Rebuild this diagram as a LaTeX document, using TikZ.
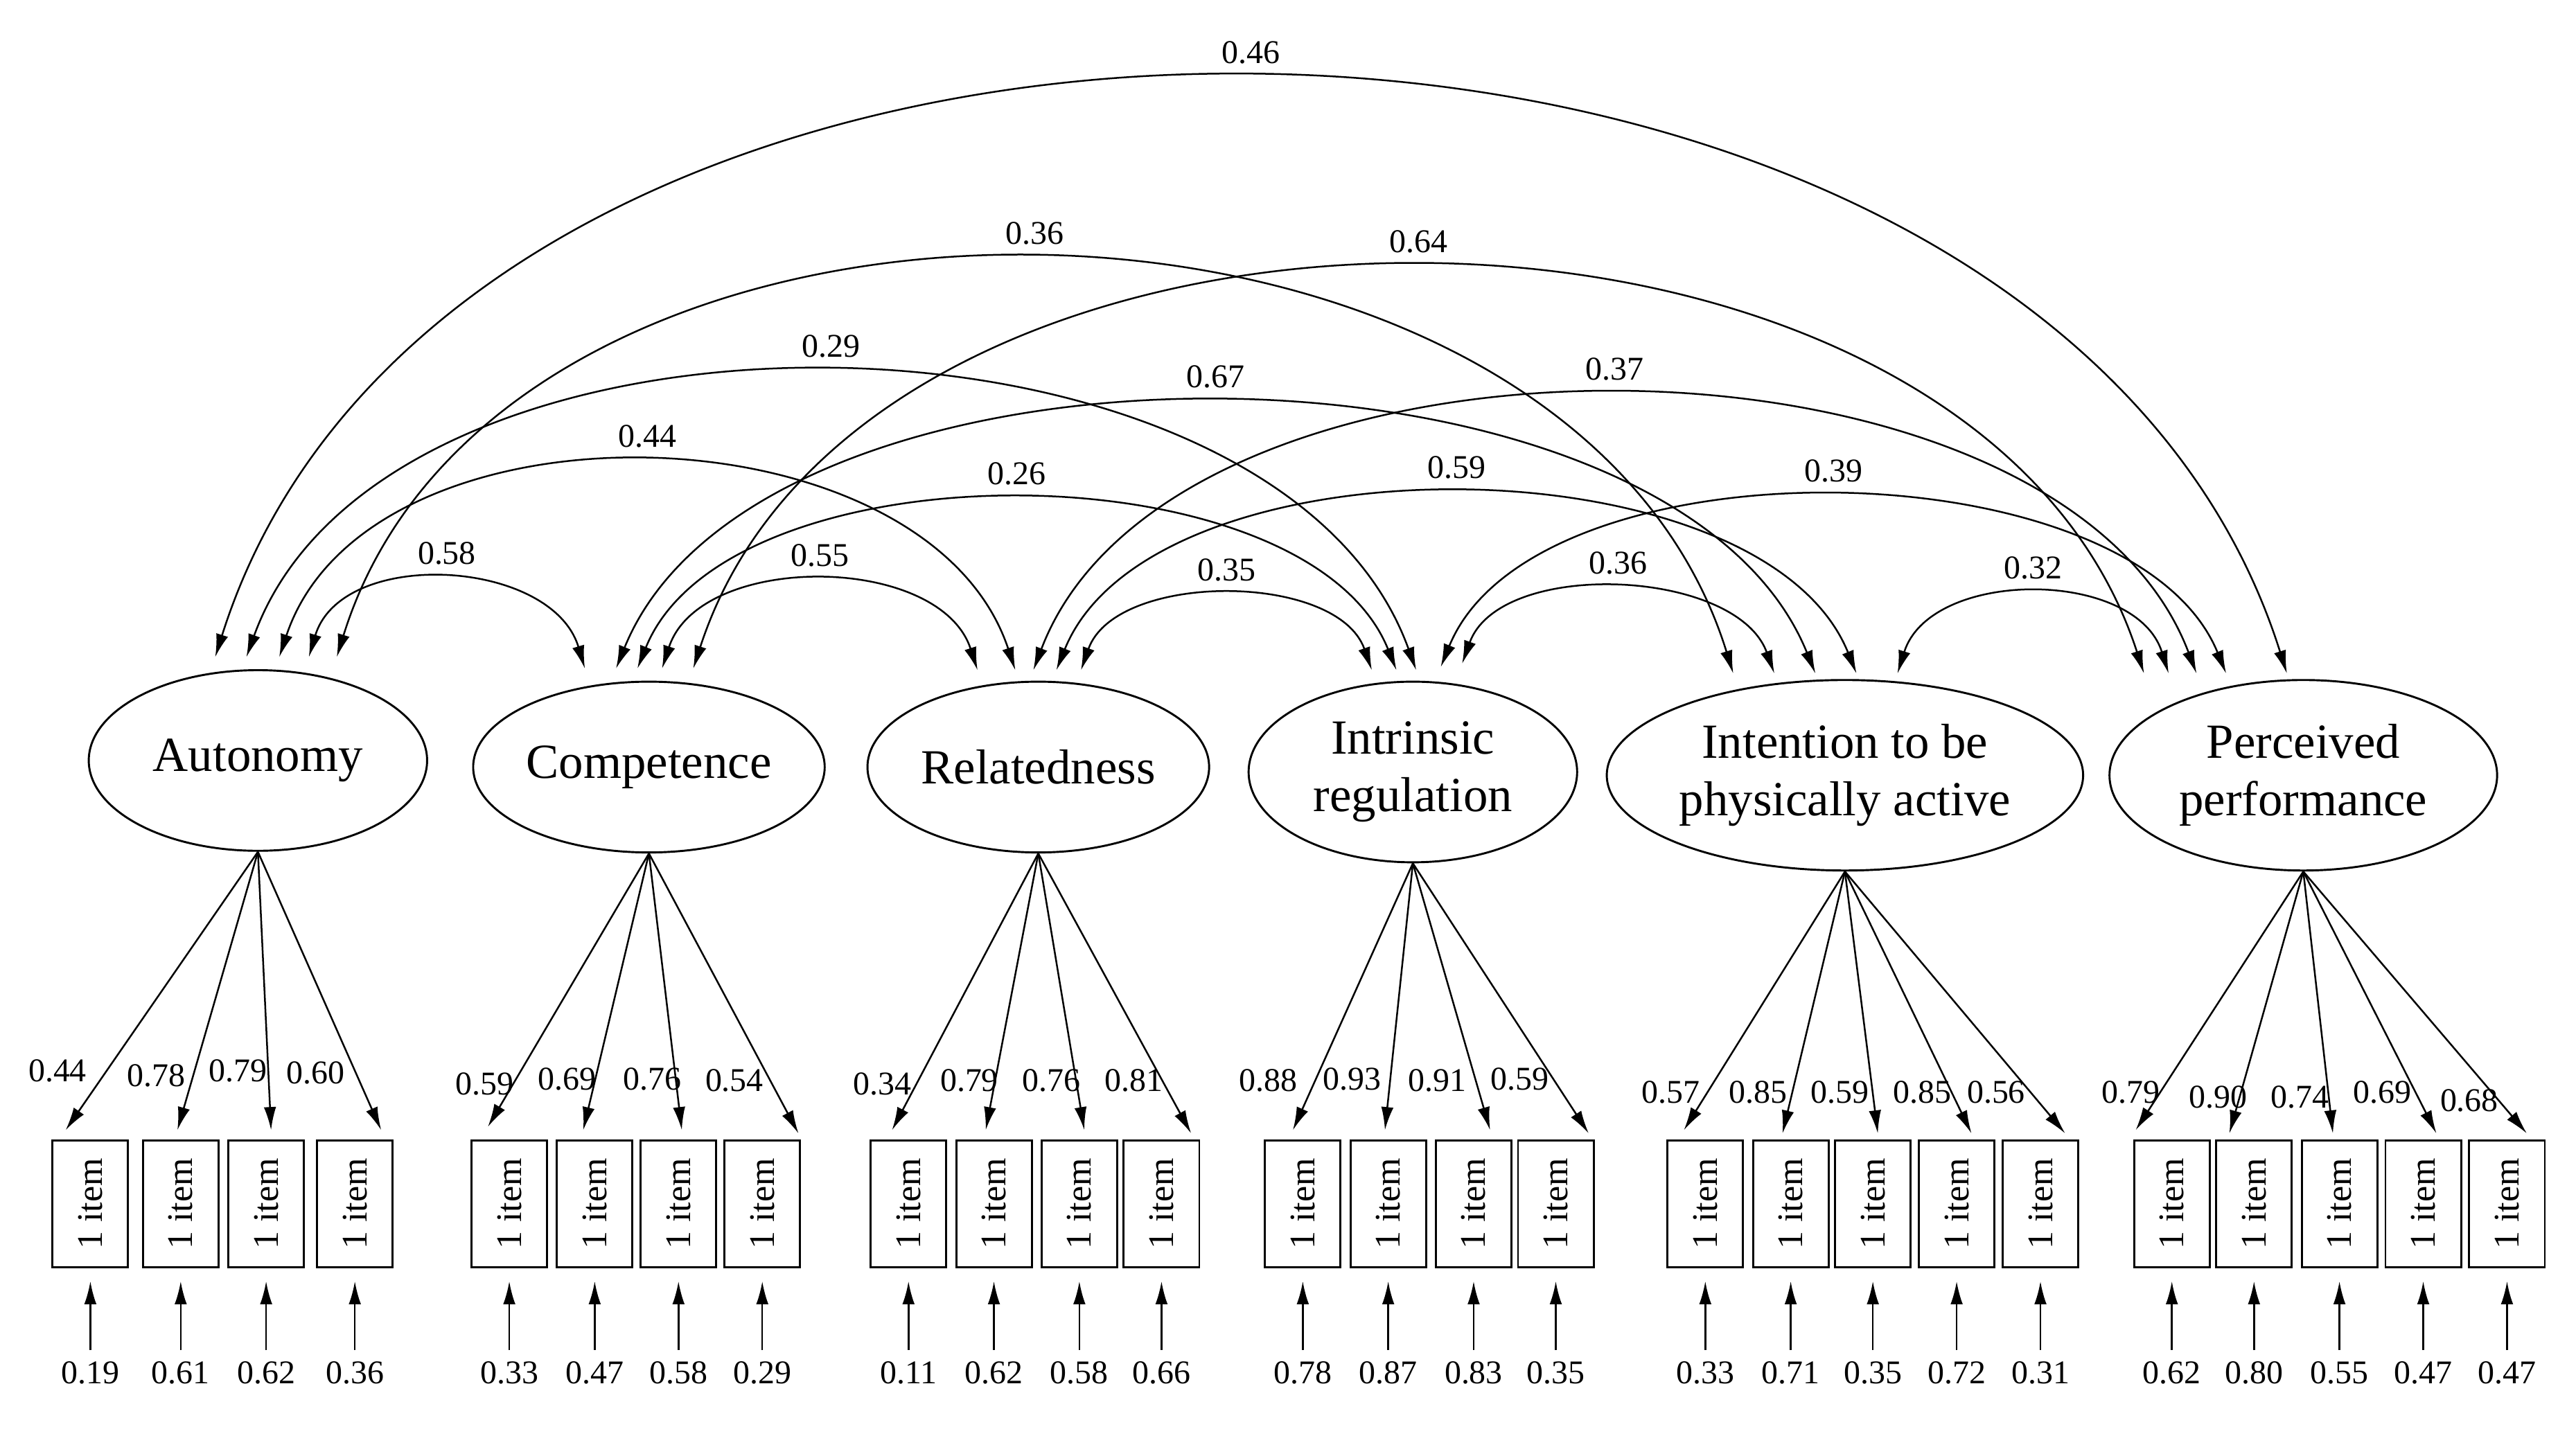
\documentclass[tikz,border=0pt]{standalone}
\usepackage{fontspec}
\setmainfont{Liberation Serif}
\usetikzlibrary{arrows.meta,shapes.geometric}
\newcommand\mygroup[3]{%
  \foreach \bx/\tx/\ty/\lx/\ly/\ld/\ed [count=\i] in {#3} {
    \node[box] (#1\i) at (\bx,733) {1 item};
    \coordinate (#1T\i) at (\tx,\ty);
    \draw[con] (#2.south) -- (#1T\i);
    \node[lbl] at (\lx,\ly) {\ld};
    \coordinate (#1E\i) at (\bx,822);
    \draw[con,shorten >=0.16cm] (#1E\i) -- (#1\i);
    \node[lbl] at (\bx,836) {\ed};
  }}
\begin{document}
\begin{tikzpicture}[x=0.02cm,y=-0.02cm,
  lat/.style={draw,ellipse,line width=0.7pt,inner sep=0pt,align=center,font=\fontsize{17}{20}\selectfont},
  box/.style={draw,line width=0.7pt,inner sep=0pt,font=\fontsize{12.5}{14}\selectfont,rotate=90,minimum width=1.54cm,minimum height=0.92cm},
  lbl/.style={font=\fontsize{11.5}{13}\selectfont,inner sep=1pt},
  con/.style={line width=0.6pt,-{Latex[length=0.28cm,width=0.15cm]}},
  corr/.style={line width=0.6pt,{Latex[length=0.28cm,width=0.15cm]}-{Latex[length=0.28cm,width=0.15cm]}}]
\useasboundingbox (0,0) rectangle (1568,870);
\fill[white] (0,0) rectangle (1568,870);

\node[lat,minimum width=4.12cm,minimum height=2.2cm] (aut) at (157,463) {Autonomy};
\node[lat,minimum width=4.28cm,minimum height=2.08cm] (comp) at (395,467) {Competence};
\node[lat,minimum width=4.16cm,minimum height=2.08cm] (rel) at (632,467) {Relatedness};
\node[lat,minimum width=4.0cm,minimum height=2.2cm] (intr) at (860,470) {Intrinsic\\regulation};
\node[lat,minimum width=5.8cm,minimum height=2.32cm] (inte) at (1123,472) {Intention to be\\physically active};
\node[lat,minimum width=4.72cm,minimum height=2.32cm] (perc) at (1402,472) {Perceived\\performance};

% arc endpoints
\coordinate (a1) at (131,400); \coordinate (a2) at (150,400); \coordinate (a3) at (170,400);
\coordinate (a4) at (188,400); \coordinate (a5) at (205,400);
\coordinate (c1) at (356,407); \coordinate (c2) at (375,407); \coordinate (c3) at (388,407);
\coordinate (c4) at (403,407); \coordinate (c5) at (422,407);
\coordinate (r1) at (595,408); \coordinate (r2) at (618,408); \coordinate (r3) at (629,408);
\coordinate (r4) at (643,408); \coordinate (r5) at (658,408);
\coordinate (i1) at (835,408); \coordinate (i2) at (850,408); \coordinate (i3) at (862,408);
\coordinate (i4) at (877,406); \coordinate (i5) at (890,404);
\coordinate (n1) at (1055,410); \coordinate (n2) at (1080,410); \coordinate (n3) at (1105,410);
\coordinate (n4) at (1130,410); \coordinate (n5) at (1155,410);
\coordinate (p1) at (1305,410); \coordinate (p2) at (1320,410); \coordinate (p3) at (1337,410);
\coordinate (p4) at (1355,410); \coordinate (p5) at (1392,410);

\draw[corr] (a4) .. controls +(20,-67) and +(-20,-67) .. (c1) node[lbl,pos=0.5,above=4pt] {0.58};
\draw[corr] (a3) .. controls +(54,-163) and +(-54,-163) .. (r2) node[lbl,pos=0.5,above=4pt] {0.44};
\draw[corr] (a2) .. controls +(85,-236) and +(-85,-236) .. (i3) node[lbl,pos=0.5,above=4pt] {0.29};
\draw[corr] (a5) .. controls +(102,-329) and +(-102,-329) .. (n1) node[lbl,pos=0.5,above=4pt] {0.36};
\draw[corr] (a1) .. controls +(150,-476) and +(-150,-476) .. (p5) node[lbl,pos=0.5,above=4pt] {0.46};
\draw[corr] (c4) .. controls +(23,-71) and +(-23,-71) .. (r1) node[lbl,pos=0.5,above=4pt] {0.55};
\draw[corr] (c3) .. controls +(55,-137) and +(-55,-137) .. (i2) node[lbl,pos=0.5,above=4pt] {0.26};
\draw[corr] (c2) .. controls +(88,-217) and +(-88,-217) .. (n3) node[lbl,pos=0.5,above=4pt] {0.67};
\draw[corr] (c5) .. controls +(106,-327) and +(-106,-327) .. (p1) node[lbl,pos=0.5,above=4pt] {0.64};
\draw[corr] (r5) .. controls +(21,-60) and +(-21,-60) .. (i1) node[lbl,pos=0.5,above=4pt] {0.35};
\draw[corr] (r4) .. controls +(58,-144) and +(-58,-144) .. (n4) node[lbl,pos=0.5,above=4pt] {0.59};
\draw[corr] (r3) .. controls +(85,-224) and +(-85,-224) .. (p3) node[lbl,pos=0.5,above=4pt] {0.37};
\draw[corr] (i5) .. controls +(23,-64) and +(-23,-64) .. (n2) node[lbl,pos=0.5,above=4pt] {0.36};
\draw[corr] (i4) .. controls +(57,-140) and +(-57,-140) .. (p4) node[lbl,pos=0.5,above=4pt] {0.39};
\draw[corr] (n5) .. controls +(20,-64) and +(-20,-64) .. (p2) node[lbl,pos=0.5,above=4pt] {0.32};

\mygroup{au}{aut}{55/40/688/35/652/0.44/0.19, 110/108/688/95/655/0.78/0.61, 162/165/688/145/652/0.79/0.62, 216/232/688/192/653/0.60/0.36}
\mygroup{co}{comp}{310/297/686/295/660/0.59/0.33, 362/355/688/345/657/0.69/0.47, 413/415/688/397/657/0.76/0.58, 464/486/690/447/658/0.54/0.29}
\mygroup{re}{rel}{553/543/688/537/660/0.34/0.11, 605/600/688/590/658/0.79/0.62, 657/660/688/640/658/0.76/0.58, 707/725/690/690/658/0.81/0.66}
\mygroup{in}{intr}{793/787/688/772/658/0.88/0.78, 845/843/688/823/657/0.93/0.87, 897/907/688/875/658/0.91/0.83, 947/967/690/925/657/0.59/0.35}
\mygroup{it}{inte}{1038/1025/688/1017/665/0.57/0.33, 1090/1085/690/1070/665/0.85/0.71, 1140/1143/690/1120/665/0.59/0.35, 1191/1200/690/1170/665/0.85/0.72, 1242/1257/690/1215/665/0.56/0.31}
\mygroup{pe}{perc}{1322/1300/688/1297/665/0.79/0.62, 1372/1357/690/1350/668/0.90/0.80, 1424/1420/690/1400/668/0.74/0.55, 1475/1483/690/1450/665/0.69/0.47, 1526/1538/690/1503/670/0.68/0.47}
\end{tikzpicture}
\end{document}
